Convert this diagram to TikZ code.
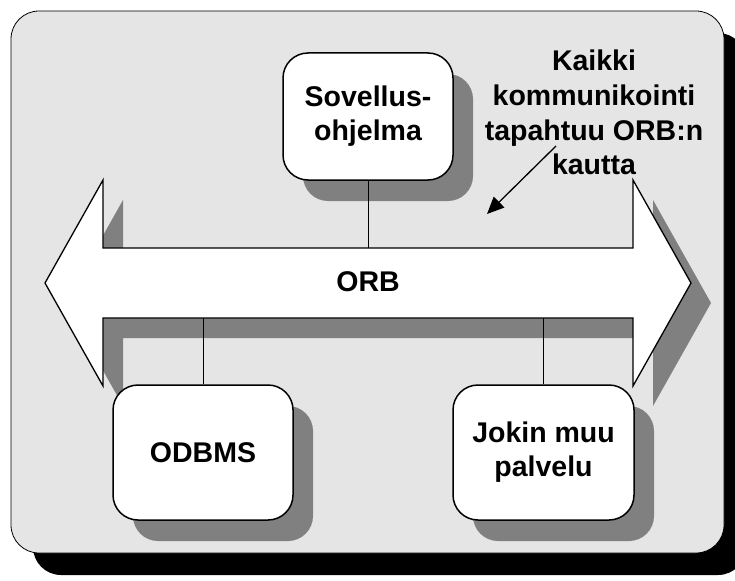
\documentclass[tikz,border=0pt]{standalone}
\usepackage{fontspec}
\setmainfont{Liberation Sans}
\usetikzlibrary{shadows,arrows.meta}

\definecolor{panelgray}{RGB}{229,229,229}
\definecolor{shadegray}{RGB}{128,128,128}

\tikzset{
  labeltext/.style={font=\fontsize{28.5}{34}\selectfont\bfseries, align=center, inner sep=0pt},
  unitbox/.style={draw=black, line width=1.5pt, fill=white, rounded corners=25pt,
    labeltext, minimum width=#1, minimum height=135pt,
    drop shadow={shadow xshift=20pt, shadow yshift=-21pt, opacity=1, fill=shadegray}},
  link/.style={draw=black, line width=1pt},
  busoutline/.style={draw=black, line width=1.3pt, fill=white, line join=miter},
}

\begin{document}
\begin{tikzpicture}[x=1pt, y=-1pt]
  \clip (0,0) rectangle (735,580);
  \useasboundingbox (0,0) rectangle (735,580);

  % background panel with its shadow
  \fill[black, rounded corners=28pt] (33,33) rectangle (746,575);
  \draw[fill=panelgray, line width=0.8pt, rounded corners=28pt] (11,11) rectangle (724,553);

  % double-headed ORB bus: shadow first, then the arrow itself
  \fill[shadegray, shift={(20,20)}]
    (45,283) -- (103,180) -- (103,248) -- (633,248) -- (633,180) -- (691,283)
    -- (633,386) -- (633,318) -- (103,318) -- (103,386) -- cycle;
  \path[busoutline]
    (45,283) -- (103,180) -- (103,248) -- (633,248) -- (633,180) -- (691,283)
    -- (633,386) -- (633,318) -- (103,318) -- (103,386) -- cycle;
  \coordinate (busTop) at (368,248);
  \coordinate (busBottom) at (368,318);
  \node[labeltext] (orb) at (368,282) {ORB};

  % components attached to the bus
  \node[unitbox=170pt, minimum height=127pt] (app) at (368,116.5) {Sovellus-\\ohjelma};
  \node[unitbox=180pt] (db) at (203,452.5) {ODBMS};
  \node[unitbox=181pt] (other) at (543.5,452.5) {Jokin muu\\palvelu};

  \draw[link] (app.south) -- (app.south |- busTop);
  \draw[link] (db.north) -- (db.north |- busBottom);
  \draw[link] (other.north) -- (other.north |- busBottom);

  % note with pointer to the bus
  \node[labeltext, font=\fontsize{28.5}{34.7}\selectfont\bfseries] (note) at (594,112.5)
    {Kaikki\\kommunikointi\\tapahtuu ORB:n\\kautta};
  \coordinate (noteFrom) at (556,146);
  \coordinate (noteTo) at (487,214);
  \draw[line width=1.3pt, -{Triangle[length=17pt, width=15pt]}] (noteFrom) -- (noteTo);
\end{tikzpicture}
\end{document}
